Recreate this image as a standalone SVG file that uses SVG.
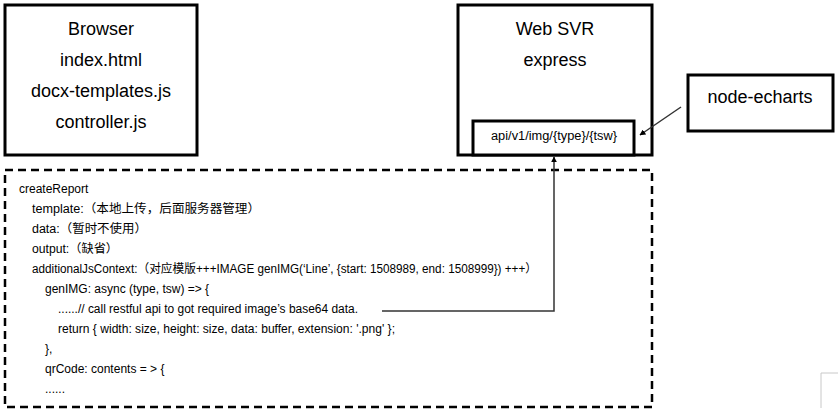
<svg xmlns="http://www.w3.org/2000/svg" width="838" height="413" viewBox="0 0 838 413">
<style>
.box{fill:#fff;stroke:#000;stroke-width:3}
.big{font-family:"Liberation Sans","Noto Sans CJK SC",sans-serif;font-size:18px;fill:#000;text-anchor:middle}
.code{font-family:"Liberation Sans","Noto Sans CJK SC",sans-serif;font-size:12px;fill:#000}
.conn{fill:none;stroke:#333;stroke-width:1.5}
</style>
<defs>
<marker id="ah" viewBox="0 0 10 10" refX="9" refY="5" markerWidth="6" markerHeight="6" orient="auto" markerUnits="userSpaceOnUse">
<path d="M0,0 L10,5 L0,10 z" fill="#000"/>
</marker>
</defs>
<rect width="838" height="413" fill="#fff"/>
<g id="browser">
<rect class="box" x="5" y="5" width="192" height="150"/>
<text class="big" x="101" y="35">Browser</text>
<text class="big" x="101" y="66">index.html</text>
<text class="big" x="101" y="97">docx-templates.js</text>
<text class="big" x="101" y="128">controller.js</text>
</g>
<g id="websvr">
<rect class="box" x="458" y="5" width="194" height="150"/>
<text class="big" x="555" y="35">Web SVR</text>
<text class="big" x="555" y="66">express</text>
</g>
<g id="api">
<rect class="box" x="473" y="121" width="161" height="34"/>
<text class="code" x="554" y="140" text-anchor="middle" textLength="126" lengthAdjust="spacingAndGlyphs">api/v1/img/{type}/{tsw}</text>
</g>
<g id="node-echarts">
<rect class="box" x="688" y="75" width="145" height="56"/>
<text class="big" x="760" y="103">node-echarts</text>
</g>
<g id="createReport">
<rect x="5" y="170" width="647" height="237" fill="none" stroke="#000" stroke-width="2.5" stroke-dasharray="8 5"/>
<text class="code" x="19" y="193">createReport</text>
<text class="code" x="32" y="213" textLength="228" lengthAdjust="spacingAndGlyphs">template:（本地上传，后面服务器管理）</text>
<text class="code" x="32" y="233" textLength="115" lengthAdjust="spacingAndGlyphs">data:（暂时不使用）</text>
<text class="code" x="32" y="253" textLength="86" lengthAdjust="spacingAndGlyphs">output:（缺省）</text>
<text class="code" x="32" y="273" textLength="505" lengthAdjust="spacingAndGlyphs">additionalJsContext:（对应模版+++IMAGE genIMG(‘Line’, {start: 1508989, end: 1508999}) +++）</text>
<text class="code" x="45" y="293">genIMG: async (type, tsw) =&gt; {</text>
<text class="code" x="58" y="313" textLength="300" lengthAdjust="spacingAndGlyphs">......// call restful api to got required image’s base64 data.</text>
<text class="code" x="58" y="333" textLength="337" lengthAdjust="spacingAndGlyphs">return { width: size, height: size, data: buffer, extension: '.png' };</text>
<text class="code" x="45" y="353">},</text>
<text class="code" x="45" y="373">qrCode: contents = &gt; {</text>
<text class="code" x="45" y="393">......</text>
</g>
<g id="connectors">
<path class="conn" d="M382,311 H554 V157" marker-end="url(#ah)"/>
<path class="conn" d="M681,107 L640,135" marker-end="url(#ah)"/>
</g>
<path d="M838,373 H821 V408" fill="none" stroke="#c8c8c8" stroke-width="1"/>
</svg>
